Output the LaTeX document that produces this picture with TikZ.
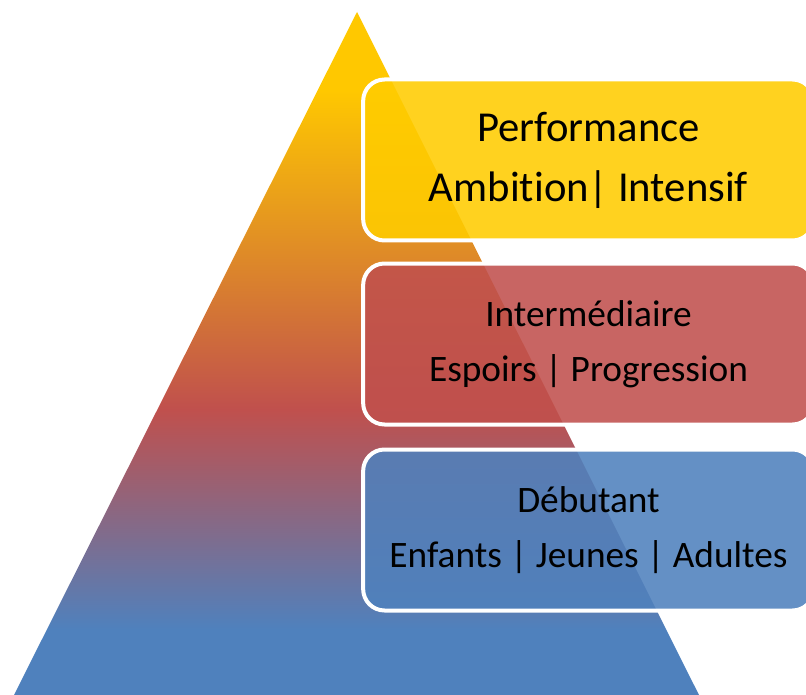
\documentclass[tikz,border=0pt]{standalone}
\usepackage{fontspec}
\setmainfont{Carlito}[Ligatures=NoCommon]
\usetikzlibrary{positioning}
\definecolor{pyellow}{HTML}{FFC800}
\definecolor{pred}{HTML}{C0504D}
\definecolor{pblue}{HTML}{4F81BD}
\definecolor{lvyellow}{HTML}{FFCC00}
\pgfdeclareverticalshading{pyramid}{100bp}{color(0bp)=(pblue); color(29.8bp)=(pblue);
  color(45.9bp)=(pred); color(69.3bp)=(pyellow); color(100bp)=(pyellow)}

\begin{document}
\begin{tikzpicture}[x=0.75pt, y=-0.75pt,
    level/.style={draw=white, line width=3pt, rounded corners=16pt,
      fill opacity=0.88, text opacity=1, align=center, inner sep=0pt,
      minimum width=338pt, minimum height=120.75pt},
    small/.style={font=\fontsize{28}{41}\selectfont},
    big/.style={font=\fontsize{32}{45}\selectfont},
  ]
  \useasboundingbox (0,0) rectangle (806,695);

  % pyramid
  \shade[shading=pyramid] (357,12) -- (699,695) -- (14,695) -- cycle;

  % levels, top to bottom
  \node[level, big, fill=lvyellow] (perf) at (588.5,160)
    {Performance\\Ambition| Intensif};
  \node[level, small, fill=pred] (inter) at (588.5,344)
    {Intermédiaire\\Espoirs | Progression};
  \node[level, small, fill=pblue] (debut) at (588.5,530)
    {Débutant\\Enfants | Jeunes | Adultes};

\end{tikzpicture}
\end{document}
